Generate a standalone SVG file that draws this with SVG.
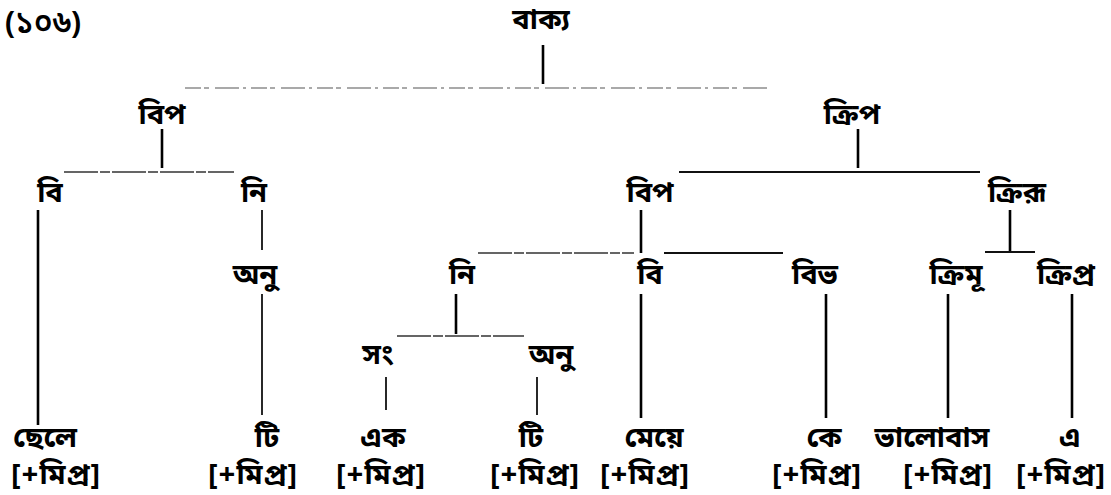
<svg xmlns="http://www.w3.org/2000/svg" width="1111" height="495" viewBox="0 0 1111 495">
<style>
  text { font-family: "Noto Sans Bengali", "Noto Serif Bengali", "Lohit Bengali", "FreeSerif", "Noto Sans", sans-serif; font-size: 29px; font-weight: bold; fill: #000; text-anchor: middle; }
  .title { font-size: 31px; text-anchor: start; font-weight: 600; }
  .feat { font-size: 29px; letter-spacing: 1px; }
  .v { stroke: #000; stroke-width: 2.6; fill: none; }
  .vt { stroke: #111; stroke-width: 1.8; fill: none; }
  .h { stroke: #111; stroke-width: 1.8; fill: none; }
  .hf { stroke: #555; stroke-width: 1.2; fill: none; stroke-dasharray: 16 3 5 6 24 4 3 5; }
  .hd { stroke: #333; stroke-width: 1.5; fill: none; stroke-dasharray: 34 2 10 2; }
</style>
<rect width="1111" height="495" fill="#fff"/>
<g id="label-number"><text class="title" x="5" y="33">(১০৬)</text></g>

<g id="connectors">
  <line class="v" x1="543" y1="45" x2="543" y2="84"/>
  <line class="hf" x1="185" y1="88" x2="770" y2="88"/>
  <line class="v" x1="162" y1="129" x2="162" y2="168"/>
  <line class="v" x1="858" y1="129" x2="858" y2="168"/>
  <line class="hd" x1="64" y1="172" x2="234" y2="172"/>
  <line class="h" x1="679" y1="172" x2="980" y2="172"/>
  <line class="v" x1="38" y1="210" x2="38" y2="425"/>
  <line class="vt" x1="262" y1="210" x2="262" y2="250"/>
  <line class="vt" x1="262" y1="294" x2="262" y2="415"/>
  <line class="v" x1="641" y1="210" x2="641" y2="253"/>
  <line class="hd" x1="478" y1="253" x2="634" y2="253"/>
  <line class="h" x1="664" y1="253" x2="783" y2="253"/>
  <line class="v" x1="1010" y1="210" x2="1010" y2="252"/>
  <line class="h" x1="985" y1="252" x2="1035" y2="252"/>
  <line class="v" x1="456" y1="294" x2="456" y2="334"/>
  <line class="hd" x1="397" y1="336" x2="524" y2="336"/>
  <line class="vt" x1="386" y1="377" x2="386" y2="410"/>
  <line class="vt" x1="537" y1="377" x2="537" y2="415"/>
  <line class="v" x1="641" y1="294" x2="641" y2="418"/>
  <line class="v" x1="826" y1="294" x2="826" y2="418"/>
  <line class="v" x1="948" y1="294" x2="948" y2="418"/>
  <line class="v" x1="1072" y1="294" x2="1072" y2="418"/>
</g>

<g id="n-bakya"><text x="541" y="29">বাক্য</text></g>
<g id="n-bip1"><text x="162" y="124">বিপ</text></g>
<g id="n-kriP"><text x="852" y="124">ক্রিপ</text></g>
<g id="n-bi1"><text x="50" y="202">বি</text></g>
<g id="n-ni1"><text x="254" y="202">নি</text></g>
<g id="n-bip2"><text x="650" y="202">বিপ</text></g>
<g id="n-kriru"><text x="1017" y="202">ক্রিরূ</text></g>
<g id="n-anu1"><text x="255" y="284">অনু</text></g>
<g id="n-ni2"><text x="462" y="284">নি</text></g>
<g id="n-bi2"><text x="650" y="284">বি</text></g>
<g id="n-bibh"><text x="815" y="284">বিভ</text></g>
<g id="n-krimu"><text x="956" y="284">ক্রিমূ</text></g>
<g id="n-kripro"><text x="1066" y="284">ক্রিপ্র</text></g>
<g id="n-song"><text x="378" y="364">সং</text></g>
<g id="n-anu2"><text x="551" y="364">অনু</text></g>

<g id="leaf-chele"><text x="45" y="447">ছেলে</text><text class="feat" x="56" y="484">[+মিপ্র]</text></g>
<g id="leaf-ti1"><text x="267" y="447">টি</text><text class="feat" x="253" y="484">[+মিপ্র]</text></g>
<g id="leaf-ek"><text x="383" y="447">এক</text><text class="feat" x="381" y="484">[+মিপ্র]</text></g>
<g id="leaf-ti2"><text x="531" y="447">টি</text><text class="feat" x="535" y="484">[+মিপ্র]</text></g>
<g id="leaf-meye"><text x="654" y="447">মেয়ে</text><text class="feat" x="645" y="484">[+মিপ্র]</text></g>
<g id="leaf-ke"><text x="824" y="447">কে</text><text class="feat" x="817" y="484">[+মিপ্র]</text></g>
<g id="leaf-bhalobas"><text x="932" y="447">ভালোবাস</text><text class="feat" x="948" y="484">[+মিপ্র]</text></g>
<g id="leaf-e"><text x="1070" y="447">এ</text><text class="feat" x="1061" y="484">[+মিপ্র]</text></g>
</svg>
